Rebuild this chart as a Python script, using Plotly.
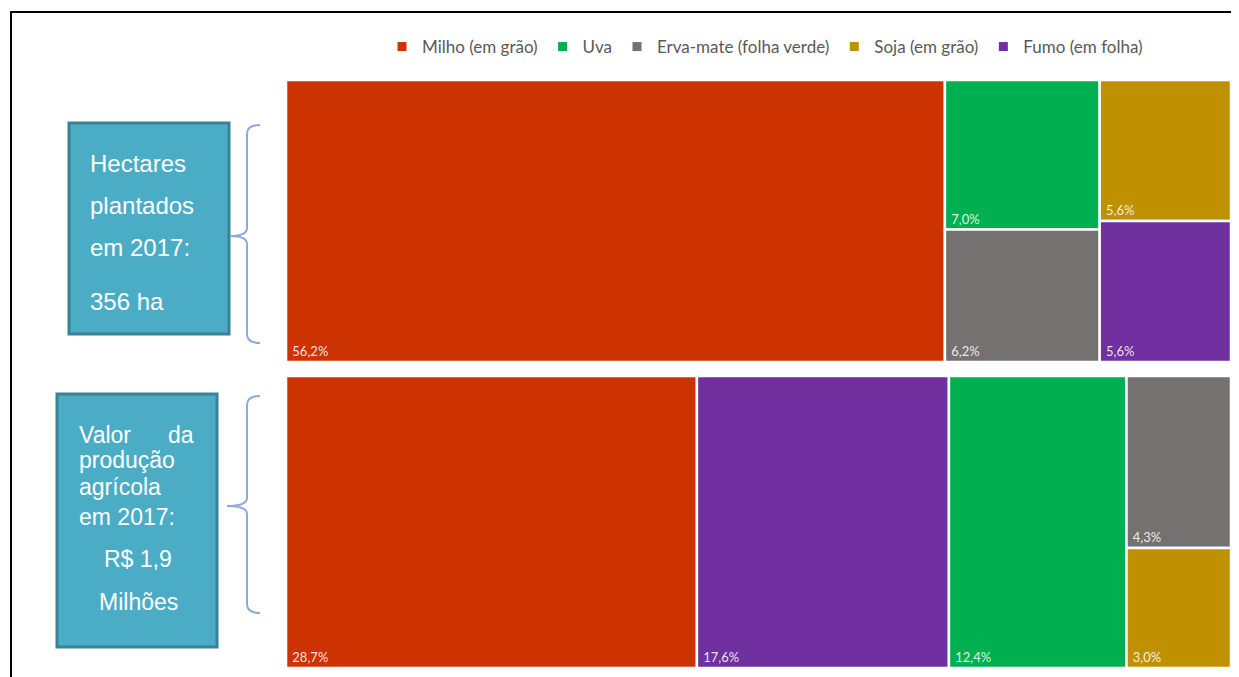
import plotly.graph_objects as go

W, H = 1239, 677
OFF = 8  # page body margin of the html page
FW, FH = W - OFF, H - OFF

# ---------------- data ----------------
categories = ["Milho (em grão)", "Uva", "Erva-mate (folha verde)", "Soja (em grão)", "Fumo (em folha)"]
colors = ["#CC3300", "#00B050", "#767171", "#BF9000", "#7030A0"]
area_pct = [56.2, 7.0, 6.2, 5.6, 5.6]        # Hectares plantados (% do total)
value_pct = [28.7, 12.4, 4.3, 3.0, 17.6]     # Valor da produção (% do total)
# column grouping of the tiles (indices into categories)
area_columns = [[0], [1, 2], [3, 4]]
value_columns = [[0], [4], [1], [2, 3]]


def px_x(x):
    return (x - OFF) / FW


def px_y(y):
    return 1 - (y - OFF) / FH


def fmt(v):
    return f"{v:.1f}".replace(".", ",") + "%"


def make_treemap(name, vals, columns, dom_x, dom_y):
    ids, labels, parents, values, cols, texts = [], [], [], [], [], []
    root = name + "_root"
    ids.append(root); labels.append(""); parents.append(""); values.append(sum(vals))
    cols.append("#FFFFFF"); texts.append("")
    for gi, col in enumerate(columns):
        gid = f"{name}_g{gi}"
        ids.append(gid); labels.append(""); parents.append(root)
        values.append(sum(vals[i] for i in col)); cols.append("#FFFFFF"); texts.append("")
        for i in col:
            ids.append(f"{name}_{i}"); labels.append(categories[i]); parents.append(gid)
            values.append(vals[i]); cols.append(colors[i])
            texts.append("\u00a0" + fmt(vals[i]))
    return go.Treemap(
        ids=ids, labels=labels, parents=parents, values=values, text=texts,
        branchvalues="total", sort=False,
        texttemplate="%{text}", textposition="bottom left",
        textfont=dict(family="Lato", size=13, color="rgba(255,255,255,0.88)"),
        marker=dict(colors=cols, line=dict(color="#FFFFFF", width=2.5),
                    pad=dict(t=0, l=0, r=0, b=0)),
        tiling=dict(packing="slice-dice", pad=0),
        pathbar=dict(visible=False),
        hoverinfo="skip",
        domain=dict(x=dom_x, y=dom_y),
    )


fig = go.Figure()
fig.add_trace(make_treemap("area", area_pct, area_columns,
                           [px_x(286), px_x(1231)], [px_y(362), px_y(80)]))
fig.add_trace(make_treemap("valor", value_pct, value_columns,
                           [px_x(286), px_x(1231)], [px_y(668), px_y(376)]))

# legend entries
for c, col in zip(categories, colors):
    fig.add_trace(go.Scatter(x=[None], y=[None], mode="markers", name=c,
                             marker=dict(symbol="square", size=9, color=col),
                             hoverinfo="skip"))

shapes = []
# frame lines
shapes.append(dict(type="line", xref="paper", yref="paper",
                   x0=px_x(10), x1=1, y0=px_y(12), y1=px_y(12),
                   line=dict(color="black", width=2)))
shapes.append(dict(type="line", xref="paper", yref="paper",
                   x0=px_x(11), x1=px_x(11), y0=px_y(12), y1=0,
                   line=dict(color="black", width=2)))

# text boxes
box_fill = "#4BACC6"
box_line = "#3A8296"
shapes.append(dict(type="rect", xref="paper", yref="paper",
                   x0=px_x(69), x1=px_x(229), y0=px_y(334), y1=px_y(123),
                   fillcolor=box_fill, line=dict(color=box_line, width=3), layer="below"))
shapes.append(dict(type="rect", xref="paper", yref="paper",
                   x0=px_x(57), x1=px_x(217), y0=px_y(647), y1=px_y(394),
                   fillcolor=box_fill, line=dict(color=box_line, width=3), layer="below"))


def brace(xv, xt, xm, top, mid, bot):
    def p(x, y):
        return f"{px_x(x):.5f},{px_y(y):.5f}"
    return ("M " + p(xt, top) + " Q " + p(xv, top) + " " + p(xv, top + 9) +
            " L " + p(xv, mid - 8) + " Q " + p(xv, mid) + " " + p(xm, mid) +
            " Q " + p(xv, mid) + " " + p(xv, mid + 8) +
            " L " + p(xv, bot - 9) + " Q " + p(xv, bot) + " " + p(xt, bot))


brace_col = "#8EAADB"
shapes.append(dict(type="path", xref="paper", yref="paper",
                   path=brace(247, 260, 230, 125, 236, 343),
                   line=dict(color=brace_col, width=2)))
shapes.append(dict(type="path", xref="paper", yref="paper",
                   path=brace(247, 260, 227, 396, 506, 613),
                   line=dict(color=brace_col, width=2)))

annots = []
tf = dict(family="Liberation Sans, Arial", size=24, color="white")


def ann(text, x, y, xanchor="left", size=24):
    f = dict(tf); f["size"] = size
    annots.append(dict(text=text, x=px_x(x), y=px_y(y), xref="paper", yref="paper",
                       xanchor=xanchor, yanchor="middle", showarrow=False, font=f))


ann("Hectares", 88, 163)
ann("plantados", 88, 206)
ann("em 2017:", 88, 248)
ann("356 ha", 88, 301)

ann("Valor", 77, 435, size=23)
ann("da", 196, 435, xanchor="right", size=23)
ann("produção", 77, 460, size=23)
ann("agrícola", 77, 487, size=23)
ann("em 2017:", 77, 517, size=23)
ann("R$ 1,9", 138, 559, xanchor="center", size=23)
ann("Milhões", 138, 602, xanchor="center", size=23)

fig.update_layout(
    width=FW, height=FH,
    margin=dict(l=0, r=0, t=0, b=0),
    paper_bgcolor="white", plot_bgcolor="white",
    xaxis=dict(visible=False), yaxis=dict(visible=False),
    showlegend=True,
    legend=dict(orientation="h", x=px_x(765), xanchor="center", y=px_y(47), yanchor="middle",
                font=dict(family="Lato", size=17, color="#595959"),
                itemwidth=30, tracegroupgap=0, bgcolor="rgba(0,0,0,0)"),
    shapes=shapes,
    annotations=annots,
)

fig.write_html("out.html")
